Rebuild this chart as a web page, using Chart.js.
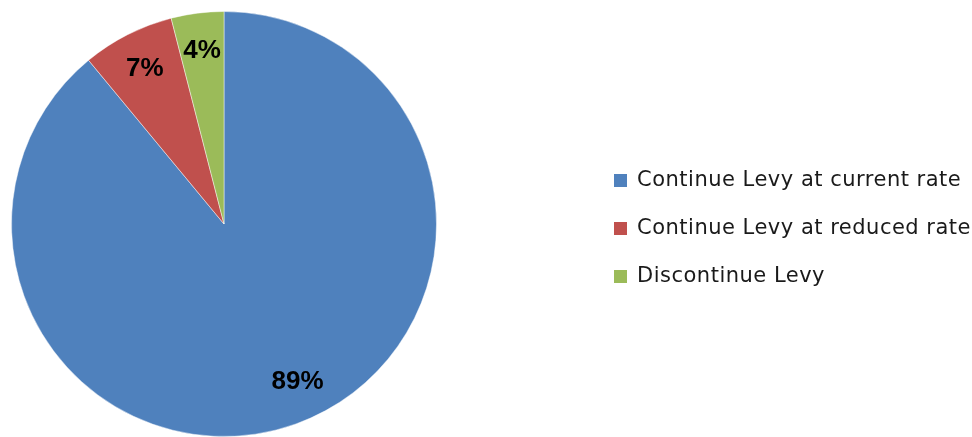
<!DOCTYPE html>
<html>
<head>
<meta charset="utf-8">
<script src="https://cdn.jsdelivr.net/npm/chart.js@4/dist/chart.umd.min.js"></script>
<style>
  html, body { margin: 0; padding: 0; background: #ffffff; }
  #levy-pie { display: block; }
</style>
</head>
<body>
<canvas id="levy-pie" width="972" height="437"></canvas>
<script>
let levy_labels = [
	'Continue Levy at current rate',
	'Continue Levy at reduced rate',
	'Discontinue Levy'
];
let levy_values = [89, 7, 4];
let levy_colors = ['#4f81bd', '#c0504d', '#9bbb59'];

// percent labels sit along each slice's middle angle
let sliceLabels = {
	id: 'sliceLabels',
	afterDatasetsDraw: function(chart) {
		let ctx = chart.ctx;
		let arcs = chart.getDatasetMeta(0).data;
		ctx.save();
		ctx.font = 'bold 26px "Liberation Sans", Arial, sans-serif';
		ctx.fillStyle = '#000000';
		ctx.textAlign = 'center';
		ctx.textBaseline = 'middle';
		for (var i = 0; i < arcs.length; i++) {
			let a = arcs[i];
			let mid = (a.startAngle + a.endAngle) / 2;
			let r = a.outerRadius * 0.82;
			// the big slice label is pulled a little toward the right
			if (a.endAngle - a.startAngle > Math.PI) mid -= 0.09;
			ctx.fillText(levy_values[i] + '%', a.x + Math.cos(mid) * r, a.y + Math.sin(mid) * r);
		};
		ctx.restore();
	}
};

// legend on the right, built from the chart's labels and colours
let sideLegend = {
	id: 'sideLegend',
	afterDraw: function(chart) {
		let ctx = chart.ctx;
		let labels = chart.data.labels;
		let colors = chart.data.datasets[0].backgroundColor;
		ctx.save();
		ctx.font = '21px "DejaVu Sans", sans-serif';
		ctx.letterSpacing = '0.5px';
		ctx.textBaseline = 'middle';
		ctx.textAlign = 'left';
		for (var i = 0; i < labels.length; i++) {
			let y = 181 + i * 48;
			ctx.fillStyle = colors[i];
			ctx.fillRect(614, y - 7, 13, 13);
			ctx.fillStyle = '#1a1a1a';
			ctx.fillText(labels[i], 637, y);
		};
		ctx.restore();
	}
};

let pie_chart = new Chart(document.getElementById('levy-pie').getContext('2d'), {
	type: 'pie',
	data: {
		labels: levy_labels,
		datasets: [{
			data: levy_values,
			backgroundColor: levy_colors,
			borderColor: 'rgba(255,255,255,0.45)',
			borderWidth: 1
		}]
	},
	options: {
		responsive: false,
		animation: false,
		layout: {
			padding: { left: 10, right: 534, top: 11, bottom: 0 }
		},
		plugins: {
			legend: { display: false },
			tooltip: { enabled: false }
		}
	},
	plugins: [sliceLabels, sideLegend]
});
</script>
</body>
</html>
